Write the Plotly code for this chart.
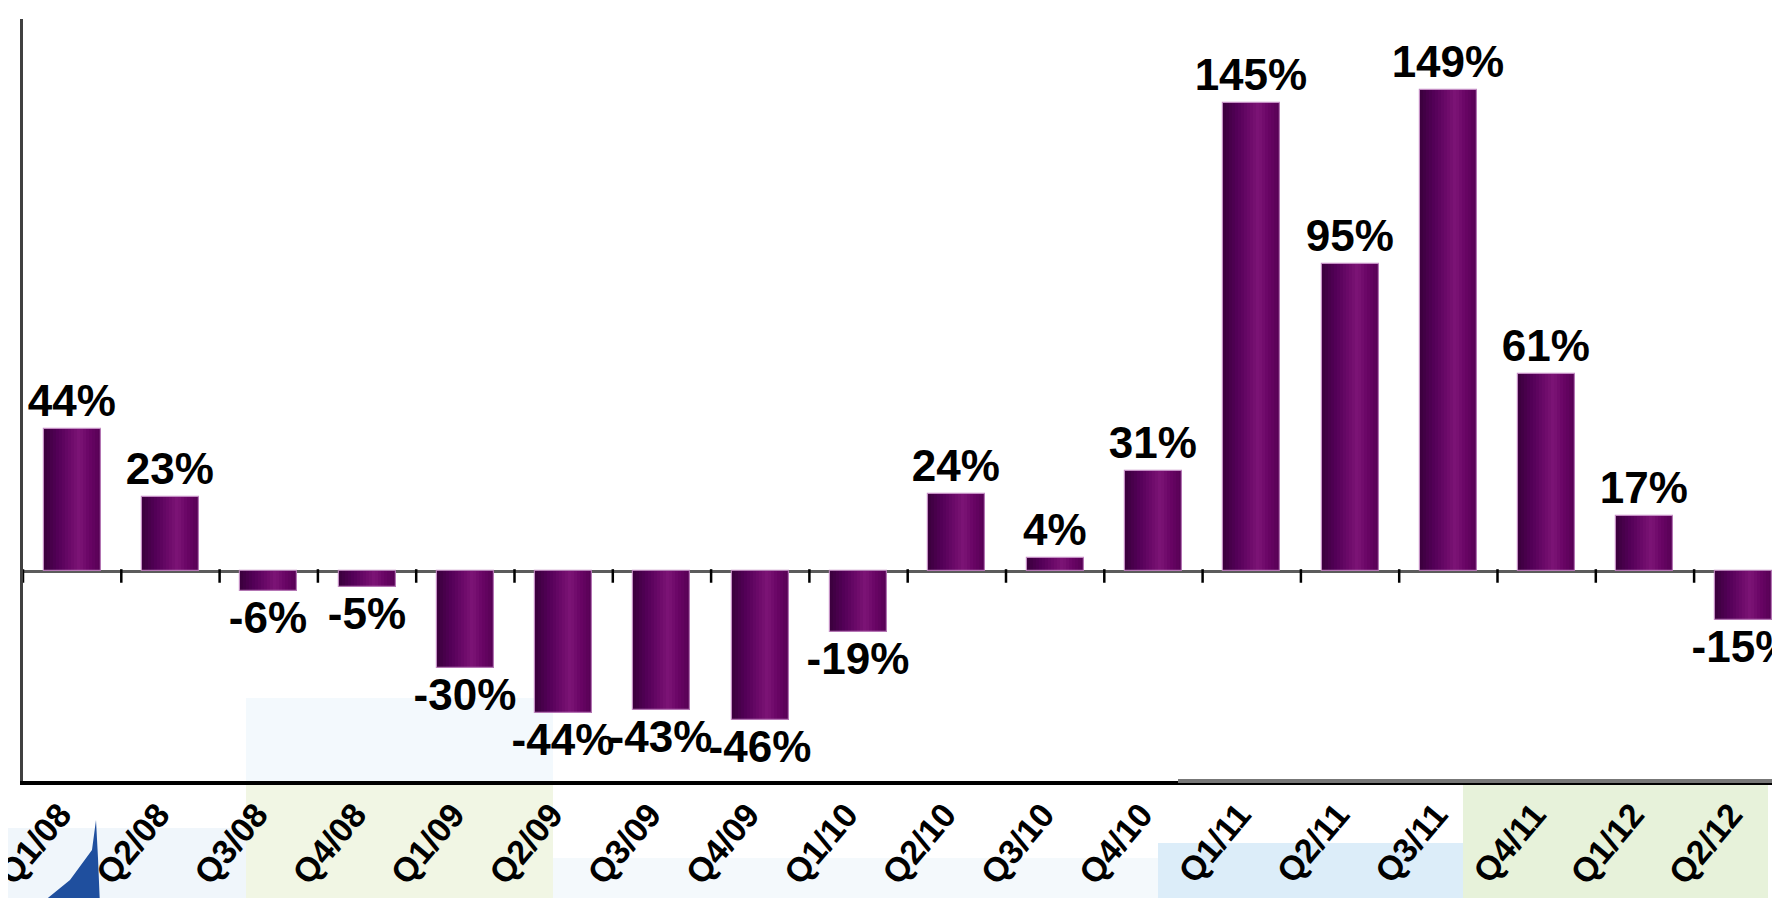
import plotly.graph_objects as go

quarters = ["Q1/08", "Q2/08", "Q3/08", "Q4/08", "Q1/09", "Q2/09", "Q3/09", "Q4/09",
            "Q1/10", "Q2/10", "Q3/10", "Q4/10", "Q1/11", "Q2/11", "Q3/11", "Q4/11",
            "Q1/12", "Q2/12"]
growth = [44, 23, -6, -5, -30, -44, -43, -46, -19, 24, 4, 31, 145, 95, 149, 61, 17, -15]
labels = [f"{v}%" for v in growth]

idx = list(range(len(quarters)))

W_PX, H_PX = 1780, 898
ML, MR, MT, MB = 15, 0, 11, 125
PW, PH = W_PX - ML - MR, H_PX - MT - MB


def px_x(x):
    return (x - ML) / PW


def px_y(y):
    return (H_PX - MB - y) / PH


# horizontal gradient stops for the cylinder-like bars
stops = [(0.0, (58, 0, 60)), (0.25, (84, 0, 88)), (0.5, (112, 12, 108)),
         (0.62, (124, 20, 118)), (0.8, (104, 4, 100)), (1.0, (86, 0, 84))]


def grad(t):
    for (t0, c0), (t1, c1) in zip(stops[:-1], stops[1:]):
        if t0 <= t <= t1:
            f = (t - t0) / (t1 - t0)
            c = [round(a + (b - a) * f) for a, b in zip(c0, c1)]
            return f"rgb({c[0]},{c[1]},{c[2]})"
    return "rgb(86,0,84)"


BAR_W = 0.58
N = 19
fig = go.Figure()
for k in range(N):
    fig.add_trace(go.Bar(
        x=idx, y=growth,
        width=BAR_W / N * (1.15 if k < N - 1 else 1.0),
        offset=-BAR_W / 2 + k * BAR_W / N,
        marker=dict(color=grad((k + 0.5) / N), line=dict(width=0)),
        hoverinfo="skip", showlegend=False,
    ))

fig.add_trace(go.Bar(
    x=idx, y=growth, width=BAR_W, offset=-BAR_W / 2,
    marker=dict(color="rgba(0,0,0,0)", line=dict(color="rgba(190,130,190,0.9)", width=1.2)),
    text=labels, textposition="outside", cliponaxis=False, constraintext="none",
    textfont=dict(family="Liberation Sans, Arial", size=44, color="black", weight="bold"),
    showlegend=False,
))

# tick marks on the zero line at category boundaries
tx, ty = [], []
for i in range(len(quarters) + 1):
    tx += [i - 0.5, i - 0.5, None]
    ty += [0.6, -3.6, None]
fig.add_trace(go.Scatter(x=tx, y=ty, mode="lines", line=dict(color="black", width=2.5),
                         hoverinfo="skip", showlegend=False, cliponaxis=False))

shapes = []


def rect(x0, y0, x1, y1, color):
    shapes.append(dict(type="rect", xref="paper", yref="paper", layer="below",
                       x0=px_x(x0), x1=px_x(x1), y0=px_y(y1), y1=px_y(y0),
                       fillcolor=color, line=dict(width=0)))


# faint slide-background decorations
rect(238, 690, 545, 773, "#f3f9fd")
rect(238, 773, 545, 898, "#f1f6e4")
rect(545, 850, 1150, 898, "#f4f9fc")
rect(1150, 835, 1455, 898, "#dcedf9")
rect(1455, 776, 1760, 898, "#e7f2da")
rect(0, 820, 238, 898, "#f0f6fb")

# blue swoosh bottom-left
p = [(88, 812), (84, 842), (62, 872), (30, 898), (92, 898), (90, 850)]
path = "M " + " L ".join(f"{px_x(a):.5f},{px_y(b):.5f}" for a, b in p) + " Z"
shapes.append(dict(type="path", xref="paper", yref="paper", layer="below", path=path,
                   fillcolor="#1f4f9e", line=dict(width=0)))

# grey overlay on right part of bottom axis
shapes.append(dict(type="line", xref="paper", yref="paper", layer="above",
                   x0=px_x(1170), x1=1.0, y0=0, y1=0,
                   line=dict(color="#777777", width=4)))

fig.update_layout(
    width=W_PX, height=H_PX,
    margin=dict(l=ML, r=MR, t=MT, b=MB, pad=0, autoexpand=False),
    paper_bgcolor="white", plot_bgcolor="rgba(0,0,0,0)",
    barmode="overlay", bargap=0,
    shapes=shapes,
    xaxis=dict(range=[-0.5, -0.5 + PW / 98.3], tickmode="array", tickvals=idx, ticktext=quarters,
               tickangle=-50, ticks="", showgrid=False, zeroline=False, automargin=False,
               showline=True, linecolor="black", linewidth=4,
               tickfont=dict(family="Liberation Sans, Arial", size=34, color="black", weight="bold"),
               ticklabelstandoff=-4, ticklabelshift=-12, ticklabeloverflow="allow"),
    yaxis=dict(range=[-65, 171], showticklabels=False, ticks="", showgrid=False, automargin=False,
               zeroline=True, zerolinecolor="#5c5c5c", zerolinewidth=3,
               showline=True, linecolor="#404040", linewidth=3),
    font=dict(family="Liberation Sans, Arial"),
)

fig.write_html("out.html")
